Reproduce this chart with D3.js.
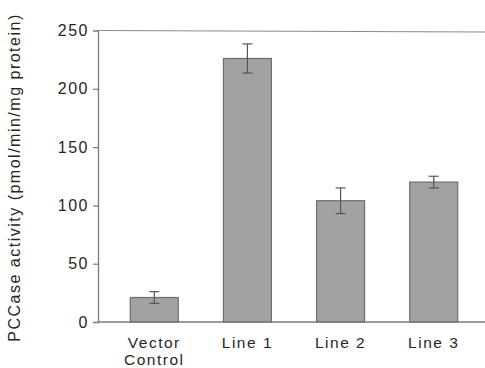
<!DOCTYPE html>
<html>
<head>
<meta charset="utf-8">
<script src="https://cdn.jsdelivr.net/npm/d3@7"></script>
<style>
  html, body { margin: 0; padding: 0; background: #fff; }
  svg { display: block; }
  text { font-family: "Liberation Sans", Arial, Helvetica, sans-serif; fill: #262626; }
</style>
</head>
<body>
<svg id="chart" width="485" height="368"></svg>
<script>
const categories = ["Vector\nControl", "Line 1", "Line 2", "Line 3"];
const values = [21, 226, 104, 120];
const errors = [5, 12.5, 11, 5];
const yTicks = [0, 50, 100, 150, 200, 250];
const yTitle = "PCCase activity (pmol/min/mg protein)";

const svg = d3.select("#chart");
const axisX = 98, baseY = 322, topY = 30.5, rightX = 485;

const y = d3.scaleLinear().domain([0, 250]).range([baseY, topY]);
const x = d3.scaleBand().domain(categories).range([107, 481])
  .paddingInner(0.485).paddingOuter(0.25);

const lineColor = "#7a7a7a";

// bars
svg.append("g").selectAll("rect").data(values).join("rect")
  .attr("x", (d, i) => x(categories[i]))
  .attr("y", d => y(d))
  .attr("width", x.bandwidth())
  .attr("height", d => baseY - y(d))
  .attr("fill", "#a2a2a2")
  .attr("stroke", "#6e6e6e")
  .attr("stroke-width", 1.2);

// error bars
const eg = svg.append("g").attr("stroke", "#555").attr("stroke-width", 1.2);
values.forEach((v, i) => {
  const cx = x(categories[i]) + x.bandwidth() / 2;
  const hi = y(v + errors[i]), lo = y(v - errors[i]);
  eg.append("line").attr("x1", cx).attr("x2", cx).attr("y1", hi).attr("y2", lo);
  eg.append("line").attr("x1", cx - 5).attr("x2", cx + 5).attr("y1", hi).attr("y2", hi);
  eg.append("line").attr("x1", cx - 5).attr("x2", cx + 5).attr("y1", lo).attr("y2", lo);
});

// y axis
const yAxis = d3.axisLeft(y).tickValues(yTicks).tickSize(5).tickPadding(4);
const ga = svg.append("g").attr("transform", `translate(${axisX},0)`).call(yAxis);
ga.select(".domain").attr("stroke", lineColor).attr("stroke-width", 1.3);
ga.selectAll(".tick line").attr("stroke", lineColor).attr("stroke-width", 1.2)
  .filter(d => d === 0 || d === 250).remove();
ga.selectAll(".tick text")
  .attr("font-size", 16).attr("letter-spacing", "1.5px")
  .attr("fill", "#262626").style("font-family", "'Liberation Sans', Arial, sans-serif");

// top border and bottom axis line
svg.append("line").attr("x1", axisX).attr("x2", rightX).attr("y1", topY).attr("y2", topY + 1.5)
  .attr("stroke", "#8a8a8a").attr("stroke-width", 1.2);
svg.append("line").attr("x1", axisX).attr("x2", rightX).attr("y1", baseY).attr("y2", baseY)
  .attr("stroke", lineColor).attr("stroke-width", 1.3);

// x labels
categories.forEach(c => {
  const cx = x(c) + x.bandwidth() / 2;
  const t = svg.append("text").attr("x", cx).attr("y", 348)
    .attr("text-anchor", "middle").attr("font-size", 15.5).attr("letter-spacing", "1.5px");
  c.split("\n").forEach((s, j) => {
    t.append("tspan").attr("x", cx).attr("dy", j === 0 ? 0 : 16.5).text(s);
  });
});

// y title
svg.append("text")
  .attr("transform", `translate(20,${(10 + 345) / 2}) rotate(-90)`)
  .attr("text-anchor", "middle").attr("font-size", 16).attr("letter-spacing", "1.5px")
  .text(yTitle);
</script>
</body>
</html>
